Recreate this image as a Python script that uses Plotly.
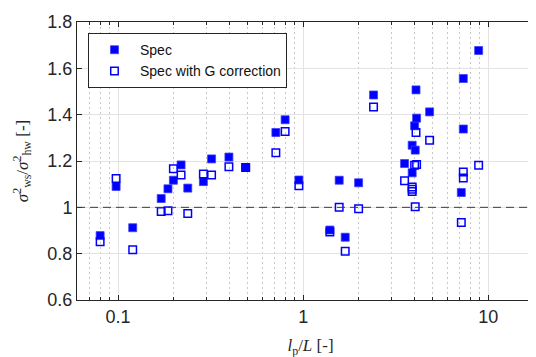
import numpy as np
import plotly.graph_objects as go

# Data
spec_x = [0.080, 0.0976, 0.120, 0.171, 0.186, 0.199, 0.219, 0.238, 0.289, 0.320, 0.397, 0.489,
          0.712, 0.799, 0.948, 1.394, 1.565, 1.687, 1.993, 2.40, 3.53, 3.88, 3.88, 4.00, 4.03,
          4.07, 4.10, 4.82, 7.15, 7.33, 7.33, 8.87]
spec_y = [0.878, 1.090, 0.912, 1.038, 1.080, 1.117, 1.183, 1.083, 1.111, 1.209, 1.217, 1.172,
          1.323, 1.378, 1.118, 0.902, 1.117, 0.871, 1.106, 1.485, 1.189, 1.149, 1.268, 1.352, 1.247,
          1.507, 1.385, 1.412, 1.064, 1.338, 1.556, 1.677]

specg_x = [0.080, 0.0976, 0.120, 0.171, 0.186, 0.199, 0.219, 0.238, 0.289, 0.320, 0.397, 0.489,
           0.712, 0.799, 0.948, 1.394, 1.565, 1.687, 1.993, 2.40, 3.53, 3.88, 3.88, 3.88, 4.00, 4.03,
           4.07, 4.10, 4.82, 7.15, 7.33, 7.33, 8.87]
specg_y = [0.851, 1.124, 0.817, 0.982, 0.985, 1.167, 1.140, 0.973, 1.144, 1.140, 1.175, 1.172,
           1.236, 1.327, 1.093, 0.893, 1.000, 0.810, 0.994, 1.433, 1.115, 1.088, 1.078, 1.068, 1.182, 1.002,
           1.323, 1.185, 1.290, 0.934, 1.152, 1.127, 1.182]

x_major = [0.1, 1, 10]
x_major_text = ["0.1", "1", "10"]
x_minor = [0.07, 0.08, 0.09, 0.2, 0.3, 0.4, 0.5, 0.6, 0.7, 0.8, 0.9,
           2, 3, 4, 5, 6, 7, 8, 9]
x_limits = [0.06, 20]
y_ticks = [0.6, 0.8, 1.0, 1.2, 1.4, 1.6, 1.8]
y_text = ["0.6", "0.8", "1", "1.2", "1.4", "1.6", "1.8"]
ref_line = 1.0

W, H = 536, 357
L_M, T_M, B_M = 68.7, 14.3, 65

fig = go.Figure()
fig.add_trace(go.Scatter(
    x=spec_x, y=spec_y, mode="markers", name="Spec",
    marker=dict(symbol="square", size=8, color="#0000ff",
                line=dict(width=1, color="rgba(60,60,255,0.75)")),
))
fig.add_trace(go.Scatter(
    x=specg_x, y=specg_y, mode="markers", name="Spec with G correction",
    marker=dict(symbol="square-open", size=7.5, color="#0000ff",
                line=dict(width=1.5, color="#1a1aff")),
))

fig.add_shape(type="line", xref="paper", yref="y", x0=0, x1=1, y0=ref_line, y1=ref_line,
              line=dict(color="#3a3a3a", width=1, dash="8px,5px"), layer="above")

axis_col = "#262626"
tick_font = dict(family="Liberation Sans, Arial, sans-serif", size=18, color=axis_col)
label_font = dict(family="Liberation Serif, Times New Roman, serif", size=17, color=axis_col)

fig.update_layout(
    width=W, height=H,
    margin=dict(l=L_M, r=0, t=T_M, b=B_M, autoexpand=False),
    paper_bgcolor="white", plot_bgcolor="white",
    showlegend=True,
    legend=dict(
        x=0.0235, y=0.960, xanchor="left", yanchor="top",
        bgcolor="white", bordercolor="#262626", borderwidth=1,
        font=dict(family="Liberation Sans, Arial, sans-serif", size=14, color="#111111"),
        itemwidth=41, tracegroupgap=0,
    ),
    xaxis=dict(
        type="log", range=[np.log10(x_limits[0]), np.log10(x_limits[1])],
        tickmode="array", tickvals=x_major, ticktext=x_major_text,
        ticks="inside", ticklen=5, tickcolor=axis_col, tickwidth=1,
        showline=True, linecolor=axis_col, linewidth=1, mirror="allticks",
        showgrid=True, gridcolor="#e3e3e3", gridwidth=1,
        minor=dict(tickmode="array", tickvals=x_minor, ticks="inside", ticklen=3,
                   tickcolor=axis_col, showgrid=True, gridcolor="#c8c8c8",
                   griddash="2px,3px", gridwidth=1),
        zeroline=False, tickfont=tick_font,
        title=dict(text="<i>l</i><sub>p</sub>/<i>L</i> [-]", font=label_font, standoff=13),
    ),
    yaxis=dict(
        range=[0.6, 1.8],
        tickmode="array", tickvals=y_ticks, ticktext=y_text,
        ticks="inside", ticklen=5, tickcolor=axis_col, tickwidth=1,
        showline=True, linecolor=axis_col, linewidth=1,
        showgrid=True, gridcolor="#e3e3e3", gridwidth=1,
        zeroline=False, tickfont=tick_font,
        title=dict(text="<i>σ</i><sup>2</sup><sub>ws</sub>/<i>σ</i><sup>2</sup><sub>hw</sub> [-]",
                   font=label_font, standoff=14),
    ),
)

fig.write_html("out.html")
